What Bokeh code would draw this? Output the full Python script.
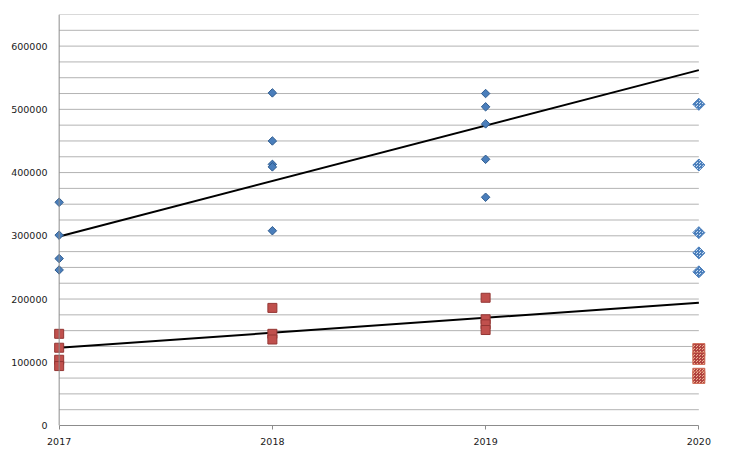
import numpy as np
from bokeh.plotting import figure
from bokeh.models import Range1d, FixedTicker, Span
from bokeh.embed import file_html
from bokeh.resources import INLINE

# ---- data ----
years = [2017, 2018, 2019, 2020]
year_labels = ["2017", "2018", "2019", "2020"]
y_ticks = [0, 100000, 200000, 300000, 400000, 500000, 600000]
y_tick_labels = ["0", "100000", "200000", "300000", "400000", "500000", "600000"]
y_max = 650000
grid_step = 25000

blue_2017 = [353000, 301000, 264000, 246000]
blue_2018 = [526000, 450000, 413000, 409000, 308000]
blue_2019 = [525000, 504000, 477000, 421000, 361000]
blue_2020 = [508000, 412000, 305000, 273000, 243000]

red_2017 = [145000, 123000, 104000, 94000]
red_2018 = [186000, 145000, 136000]
red_2019 = [202000, 168000, 160000, 151000]
red_2020 = [120000, 106000, 81000, 76000]

trend_x = [2017, 2020]
blue_trend = [299000, 562000]
red_trend = [123000, 194000]

FONT = "DejaVu Sans"

p = figure(width=722, height=449, output_backend="svg", toolbar_location=None,
           x_range=Range1d(2016.95, 2020.05), y_range=Range1d(0, y_max),
           min_border_left=48, min_border_right=13, min_border_top=14, min_border_bottom=24)
p.outline_line_color = None
p.background_fill_color = "white"
p.xgrid.visible = False
p.ygrid.visible = False

# gridlines limited to the 2017-2020 span
gy = list(range(grid_step, y_max + 1, grid_step))
p.segment(x0=[years[0]] * len(gy), x1=[years[-1]] * len(gy), y0=gy, y1=gy,
          line_color="#b3b3b3", line_width=1)
p.add_layout(Span(location=years[0], dimension="height", line_color="#8c8c8c", line_width=1))

# axes
xa = p.xaxis[0]
xa.bounds = (years[0], years[-1])
xa.ticker = FixedTicker(ticks=years)
xa.major_label_overrides = {y: l for y, l in zip(years, year_labels)}
xa.axis_line_color = "#8c8c8c"
xa.major_tick_line_color = "#8c8c8c"
xa.major_tick_out = 4
xa.major_tick_in = 0
xa.minor_tick_line_color = None
xa.major_label_standoff = 8
xa.major_label_text_font = FONT
xa.major_label_text_font_size = "9.5px"
xa.major_label_text_color = "#1a1a1a"

ya = p.yaxis[0]
ya.ticker = FixedTicker(ticks=y_ticks)
ya.major_label_overrides = {y: l for y, l in zip(y_ticks, y_tick_labels)}
ya.axis_line_color = None
ya.major_tick_line_color = None
ya.major_tick_out = 0
ya.major_tick_in = 0
ya.minor_tick_line_color = None
ya.major_label_standoff = 1
ya.major_label_text_font = FONT
ya.major_label_text_font_size = "9.5px"
ya.major_label_text_color = "#1a1a1a"

# trend lines
p.line(trend_x, blue_trend, line_color="black", line_width=2)
p.line(trend_x, red_trend, line_color="black", line_width=2)

def col(vals, yr):
    return [yr] * len(vals)

bx = col(blue_2017, 2017) + col(blue_2018, 2018) + col(blue_2019, 2019)
by = blue_2017 + blue_2018 + blue_2019
rx = col(red_2017, 2017) + col(red_2018, 2018) + col(red_2019, 2019)
ry = red_2017 + red_2018 + red_2019

p.scatter(rx, ry, marker="square", size=9, fill_color="#C0504D", line_color="#943634", line_width=1)
p.scatter(bx, by, marker="square", angle=np.pi / 4, size=6, fill_color="#4A7EBB",
          line_color="#2F5C8F", line_width=1)

# 2020 (patterned, larger)
p.scatter(col(red_2020, 2020), red_2020, marker="square", size=12, fill_color="#EDB596",
          hatch_pattern="criss_cross", hatch_color="#B0413E", hatch_scale=3, hatch_weight=1,
          line_color="#D0705A", line_width=1)
p.scatter(col(blue_2020, 2020), blue_2020, marker="square", angle=np.pi / 4, size=8.5,
          fill_color="#C9DDF2", hatch_pattern="criss_cross", hatch_color="#4A7EBB",
          hatch_scale=3, hatch_weight=1, line_color="#4A7EBB", line_width=1)

open("out.html", "w").write(file_html(p, INLINE))
